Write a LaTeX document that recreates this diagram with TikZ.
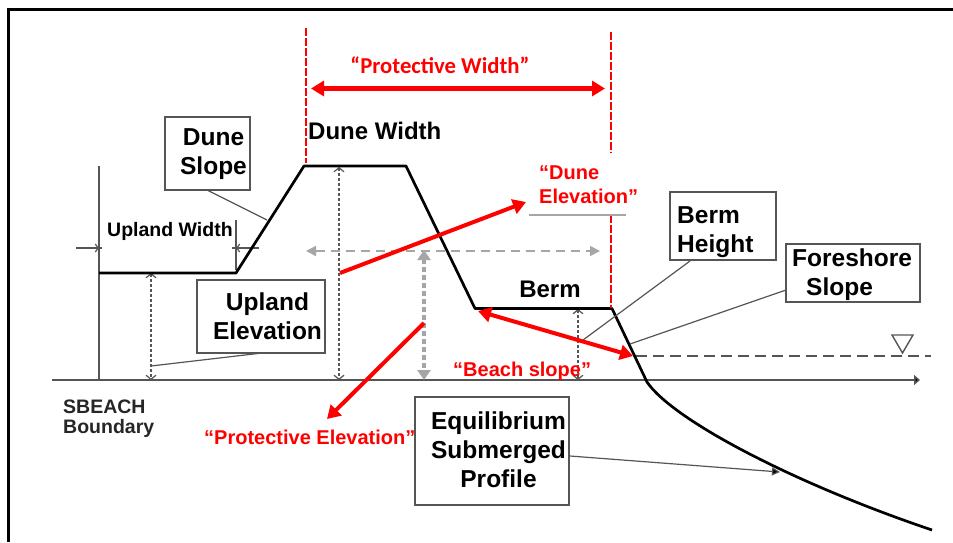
\documentclass[tikz,border=0pt]{standalone}
\usepackage{fontspec}
\setmainfont{Liberation Sans}
\newfontfamily\calib{Carlito}
\usetikzlibrary{arrows.meta}
\definecolor{gdark}{HTML}{555555}
\definecolor{gmid}{HTML}{A6A6A6}
\definecolor{redx}{HTML}{FF0000}
\tikzset{
 x=1pt,y=-1pt,
 boxn/.style={draw=gdark,line width=1.6pt,fill=white,inner sep=0pt,outer sep=0pt,anchor=north west},
 boxt/.style={inner sep=0pt,text=black,font=\bfseries\fontsize{24.5}{29}\selectfont},
 leader/.style={draw=gdark,line width=1.2pt},
 prof/.style={draw=black,line width=2.7pt,line join=round},
 thin dim/.style={draw=gdark,line width=1.2pt,dash pattern=on 3pt off 2pt,{Straight Barb[length=4pt,width=10pt]}-{Straight Barb[length=4pt,width=10pt]}},
 redarrow/.style={draw=redx,line width=4pt,-{Triangle[length=13pt,width=15pt]}},
 redboth/.style={draw=redx,line width=4pt,{Triangle[length=13pt,width=15pt]}-{Triangle[length=13pt,width=15pt]}},
 reddash/.style={draw=redx,line width=2pt,dash pattern=on 8pt off 2pt},
 redtext/.style={text=redx,font=\bfseries\fontsize{20}{24}\selectfont,inner sep=0pt},
 plain/.style={inner sep=0pt,text=black},
 tick/.style={draw=gdark,line width=1.2pt},
}
\begin{document}
\begin{tikzpicture}
\useasboundingbox (0,0) rectangle (953,542);
\fill[white] (0,0) rectangle (953,542);
% frame
\coordinate (fa) at (8.5,542); \coordinate (fb) at (8.5,9.5); \coordinate (fc) at (953,9.5);
\draw[black,line width=2.2pt] (fa) -- (fb) -- (fc);
% profile points
\coordinate (p0) at (99,273); \coordinate (p1) at (236,273); \coordinate (p2) at (304,166);
\coordinate (p3) at (406,166); \coordinate (p4) at (475,308.5); \coordinate (p5) at (612,308.5);
\coordinate (p6) at (647,382); \coordinate (p7) at (932,530);
% axis and boundary
\coordinate (axl) at (52,380); \coordinate (axr) at (920,380);
\draw[gdark,line width=1.6pt,-{Triangle[length=6pt,width=10pt,fill=black]}] (axl) -- (axr);
\coordinate (bt) at (99,166); \coordinate (bb) at (99,380);
\draw[gdark,line width=1.4pt] (bt) -- (bb);
% upland width ticks
\coordinate (ut) at (236,220); \coordinate (ub) at (236,270);
\draw[tick] (ut) -- (ub);
\coordinate (h1a) at (76,248); \coordinate (h1b) at (99,248); \coordinate (h1c) at (102,248);
\coordinate (h2a) at (232,248); \coordinate (h2b) at (236,248); \coordinate (h2c) at (259,248);
\draw[tick,-{Straight Barb[length=3pt,width=8pt]}] (h1a) -- (h1b);
\draw[tick] (h1b) -- (h1c);
\draw[tick,-{Straight Barb[length=3pt,width=8pt]}] (h2c) -- (h2b);
\draw[tick] (h2b) -- (h2a);
% dims
\coordinate (d1t) at (151,273); \coordinate (d1b) at (151,380);
\coordinate (d2t) at (339,167); \coordinate (d2b) at (339,380);
\coordinate (d3t) at (578,309); \coordinate (d3b) at (578,380);
\draw[thin dim] (d1t) -- (d1b);
\draw[thin dim] (d2t) -- (d2b);
\draw[thin dim] (d3t) -- (d3b);
\coordinate (d4t) at (424,250); \coordinate (d4b) at (424,380);
\draw[draw=gmid,line width=3.5pt,dash pattern=on 5pt off 3pt,{Triangle[length=10pt,width=13pt]}-{Triangle[length=10pt,width=13pt]}] (d4t) -- (d4b);
\coordinate (g1) at (306,251); \coordinate (g2) at (600,251);
\draw[draw=gmid,line width=1.6pt,dash pattern=on 9pt off 6pt,{Triangle[length=10pt,width=10pt]}-{Triangle[length=10pt,width=10pt]}] (g1) -- (g2);
% water
\coordinate (w1) at (636,356); \coordinate (w2) at (931,356);
\draw[gdark,line width=1.5pt,dash pattern=on 11pt off 6pt] (w1) -- (w2);
\coordinate (t1) at (892,335); \coordinate (t2) at (913,335); \coordinate (t3) at (902.5,353);
\draw[gdark,line width=1.4pt] (t1) -- (t2) -- (t3) -- cycle;
% profile
\draw[prof] (p0) -- (p1) -- (p2) -- (p3) -- (p4) -- (p5) -- (p6)
  .. controls (672,419) and (790,482) .. (p7);
% red dashed
\coordinate (ra) at (305.5,28); \coordinate (rb) at (305.5,163);
\coordinate (rc) at (610.7,32); \coordinate (rd) at (610.7,153);
\coordinate (re) at (610.7,215); \coordinate (rf) at (610.7,308);
\draw[reddash] (ra) -- (rb); \draw[reddash] (rc) -- (rd); \draw[reddash] (re) -- (rf);
% boxes
\node[boxn,minimum width=85pt,minimum height=73pt] (duneslope) at (165,117) {};
\node[boxt,align=center] (duneslopet) at (213.5,154) {Dune\\Slope};
\node[boxn,minimum width=128pt,minimum height=73pt] (uplandel) at (197,280) {};
\node[boxt,align=center] (uplandelt) at (267.5,316.5) {Upland\\Elevation};
\node[boxn,minimum width=106pt,minimum height=68pt] (bermh) at (670,192) {};
\node[boxt,align=left,anchor=west] (bermht) at (677,232) {Berm\\Height};
\node[boxn,minimum width=134pt,minimum height=58pt] (fores) at (786,244) {};
\node[boxt,align=left,anchor=west] (forest) at (792,274.5) {Foreshore\\\hspace*{14pt}Slope};
\node[boxn,minimum width=154pt,minimum height=108pt] (equil) at (415,397) {};
\node[boxt,align=center] (equilt) at (498.5,449.5) {Equilibrium\\Submerged\\Profile};
% leaders
\coordinate (l1a) at (207,190); \coordinate (l1b) at (267,220);
\draw[leader] (l1a) -- (l1b);
\coordinate (l2a) at (262,353); \coordinate (l2b) at (151,366);
\draw[leader] (l2a) -- (l2b);
\coordinate (l3a) at (690,261); \coordinate (l3b) at (583,340);
\draw[leader] (l3a) -- (l3b);
\coordinate (l4a) at (786,290); \coordinate (l4b) at (630,344);
\draw[leader] (l4a) -- (l4b);
\coordinate (l5a) at (570,456); \coordinate (l5b) at (780,472);
\draw[leader,-{Triangle[length=8pt,width=8pt,fill=black]}] (l5a) -- (l5b);
% plain labels
\node[plain,anchor=west,font=\bfseries\fontsize{24}{28}\selectfont] (dw) at (308,131) {Dune Width};
\node[plain,anchor=west,font=\bfseries\fontsize{19.5}{22}\selectfont] (uw) at (107,231) {Upland Width};
\node[plain,font=\bfseries\fontsize{24}{28}\selectfont] (berm) at (550,289.5) {Berm};
\node[plain,anchor=west,align=left,text=black!85,font=\bfseries\fontsize{19.5}{20}\selectfont] (sb) at (63,419) {SBEACH\\Boundary};
% red labels and arrows
\node[redtext,font=\calib\bfseries\fontsize{22.7}{26}\selectfont] (pw) at (440,65) {“Protective Width”};
\coordinate (pwa) at (311,88.5); \coordinate (pwb) at (605,88.5);
\draw[redboth,line width=5pt] (pwa) -- (pwb);
\node[redtext,anchor=west,align=left] (de) at (539,185) {“Dune\\Elevation”};
\coordinate (dea) at (340,273); \coordinate (deb) at (526,202);
\draw[redarrow] (dea) -- (deb);
\coordinate (dl1) at (529,215); \coordinate (dl2) at (626,215);
\draw[gmid,line width=1.2pt] (dl1) -- (dl2);
\node[redtext,anchor=west] (pe) at (204,437) {“Protective Elevation”};
\coordinate (pea) at (424,323); \coordinate (peb) at (327,419);
\draw[redarrow] (pea) -- (peb);
\node[redtext,anchor=west] (bs) at (453,371) {“Beach slope”};
\coordinate (bsa) at (478,311); \coordinate (bsb) at (633,356);
\draw[redboth] (bsa) -- (bsb);
\end{tikzpicture}
\end{document}
